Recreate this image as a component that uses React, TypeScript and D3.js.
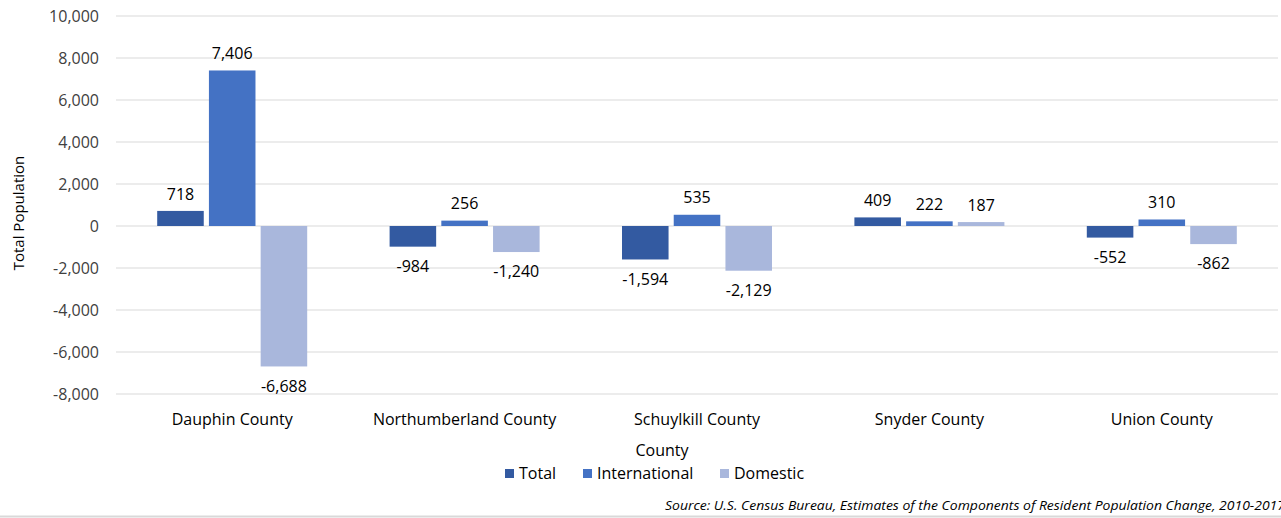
import React from "react";
import * as d3 from "d3";

const counties = ["Dauphin County", "Northumberland County", "Schuylkill County", "Snyder County", "Union County"];
const seriesNames = ["Total", "International", "Domestic"];
const totalValues = [718, -984, -1594, 409, -552];
const internationalValues = [7406, 256, 535, 222, 310];
const domesticValues = [-6688, -1240, -2129, 187, -862];
const yTicks = [10000, 8000, 6000, 4000, 2000, 0, -2000, -4000, -6000, -8000];
const colors = ["#335AA1", "#4472C4", "#A9B7DC"];

const W = 1281;
const H = 518;
const FONT = "'Open Sans', sans-serif";

export default function App() {
  const series = [totalValues, internationalValues, domesticValues];
  const x0 = d3.scaleBand<string>().domain(counties).range([116, 1278]).paddingInner(0).paddingOuter(0);
  const groupW = 150;
  const x1 = d3.scaleBand<string>().domain(seriesNames).range([0, groupW]).paddingInner(0.1);
  const y = d3.scaleLinear().domain([-8000, 10000]).range([394, 16]);
  const fmt = (v: number) => d3.format(",")(v).replace("\u2212", "-");

  return (
    <svg width={W} height={H} style={{ position: "absolute", left: 0, top: 0, background: "#fff" }} fontFamily={FONT}>
      <rect x={0} y={0} width={W} height={H} fill="#fff" />
      {yTicks.map((t) => (
        <g key={t}>
          <line x1={116} x2={1278} y1={y(t)} y2={y(t)} stroke="#D9D9D9" strokeWidth={1} />
          <text x={99} y={y(t)} dy="0.35em" textAnchor="end" fontSize={16} fill="#404040">
            {fmt(t)}
          </text>
        </g>
      ))}
      {counties.map((c, i) => {
        const gx = (x0(c) as number) + (x0.bandwidth() - groupW) / 2;
        return (
          <g key={c} transform={`translate(${gx},0)`}>
            {series.map((vals, s) => {
              const v = vals[i];
              const bx = x1(seriesNames[s]) as number;
              const top = Math.min(y(v), y(0));
              const h = Math.abs(y(v) - y(0));
              const cx = bx + x1.bandwidth() / 2;
              return (
                <g key={s}>
                  <rect x={bx} y={top} width={x1.bandwidth()} height={h} fill={colors[s]} />
                  <text
                    x={cx}
                    y={v >= 0 ? y(v) - 17 : y(v) + 19.5}
                    dy="0.35em"
                    textAnchor="middle"
                    fontSize={16}
                    fill="#000"
                  >
                    {fmt(v)}
                  </text>
                </g>
              );
            })}
          </g>
        );
      })}
      {counties.map((c) => (
        <text key={c} x={(x0(c) as number) + x0.bandwidth() / 2} y={419} dy="0.35em" textAnchor="middle" fontSize={16} fill="#000">
          {c}
        </text>
      ))}
      <text x={662} y={450} dy="0.35em" textAnchor="middle" fontSize={16} fill="#000">County</text>
      <text transform={`translate(19,213) rotate(-90)`} textAnchor="middle" dy="0.35em" fontSize={15} fill="#000">
        Total Population
      </text>
      {(() => {
        const items = [
          { name: "Total", x: 505 },
          { name: "International", x: 583 },
          { name: "Domestic", x: 720 },
        ];
        return items.map((it, s) => (
          <g key={it.name}>
            <rect x={it.x} y={469} width={9} height={9} fill={colors[s]} />
            <text x={it.x + 14} y={473.5} dy="0.35em" fontSize={16} fill="#000">{it.name}</text>
          </g>
        ));
      })()}
      <text x={665} y={505} dy="0.35em" fontSize={13} fontStyle="italic" fill="#000" textLength={620} lengthAdjust="spacingAndGlyphs">
        Source: U.S. Census Bureau, Estimates of the Components of Resident Population Change, 2010-2017
      </text>
      <line x1={0} x2={W} y1={516.5} y2={516.5} stroke="#D9D9D9" strokeWidth={2} />
    </svg>
  );
}
